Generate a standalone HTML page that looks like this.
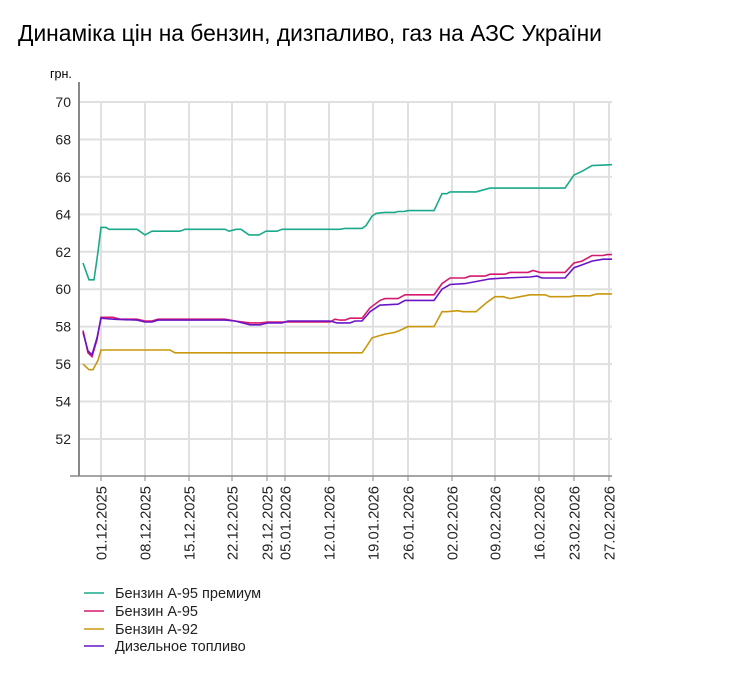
<!DOCTYPE html>
<html><head><meta charset="utf-8"><style>
body{margin:0;background:#fff;width:748px;height:673px;overflow:hidden;font-family:"Liberation Sans",sans-serif}
</style></head><body>
<svg id="s" width="748" height="673" xmlns="http://www.w3.org/2000/svg" font-family="Liberation Sans, sans-serif">
<text x="18" y="41" font-size="22.8" fill="#000">Динаміка цін на бензин, дизпаливо, газ на АЗС України</text>
<text x="50" y="78" font-size="12.5" fill="#000">грн.</text>
<g id="grid" stroke="#e0e0e0" stroke-width="2"></g>
<line x1="79" y1="82" x2="79" y2="476" stroke="#888" stroke-width="2"/>
<line x1="70" y1="476" x2="612" y2="476" stroke="#888" stroke-width="1.5"/>
<g id="yl" font-size="14" fill="#222" text-anchor="end"></g>
<g id="xl" font-size="14.8" fill="#222"></g>
<g id="lines" fill="none" stroke-width="1.6"></g>
<g font-size="14.5" fill="#222">
<line x1="84" y1="593" x2="104" y2="593" stroke="#1aaa8a" stroke-width="1.5"/><text x="115" y="598">Бензин А-95 премиум</text>
<line x1="84" y1="611" x2="104" y2="611" stroke="#d6186f" stroke-width="1.5"/><text x="115" y="616">Бензин А-95</text>
<line x1="84" y1="629" x2="104" y2="629" stroke="#c9980e" stroke-width="1.5"/><text x="115" y="634">Бензин А-92</text>
<line x1="84" y1="646" x2="104" y2="646" stroke="#6a14c8" stroke-width="1.5"/><text x="115" y="651">Дизельное топливо</text>
</g>
</svg>
<script>
var NS="http://www.w3.org/2000/svg";
function Y(v){return 102+(70-v)*18.72;}
function el(p,t,a,txt){var e=document.createElementNS(NS,t);for(var k in a)e.setAttribute(k,a[k]);if(txt)e.textContent=txt;document.getElementById(p).appendChild(e);}
for(var v=52;v<=70;v+=2){el("grid","line",{x1:79,x2:612,y1:Y(v),y2:Y(v)});el("yl","text",{x:71,y:Y(v)+5},String(v));}
var xs=[[101,"01.12.2025"],[145,"08.12.2025"],[189,"15.12.2025"],[232,"22.12.2025"],[267,"29.12.2025"],[285,"05.01.2026"],[329,"12.01.2026"],[373,"19.01.2026"],[408,"26.01.2026"],[452,"02.02.2026"],[495,"09.02.2026"],[539,"16.02.2026"],[574,"23.02.2026"],[609,"27.02.2026"]];
xs.forEach(function(d){el("grid","line",{x1:d[0],x2:d[0],y1:102,y2:476});el("grid","line",{x1:d[0],x2:d[0],y1:476,y2:481,stroke:"#888","stroke-width":1});
el("xl","text",{x:0,y:0,"text-anchor":"end",transform:"translate("+(d[0]+5.5)+",486) rotate(-90)"},d[1]);});
var S={
"#1aaa8a":[[83,61.4],[89,60.5],[94,60.5],[98,62],[101,63.3],[106,63.3],[109,63.2],[137,63.2],[145,62.9],[152,63.1],[180,63.1],[185,63.2],[225,63.2],[229,63.1],[236,63.2],[241,63.2],[249,62.9],[259,62.9],[266,63.1],[277,63.1],[282,63.2],[340,63.2],[345,63.25],[362,63.25],[366,63.4],[372,63.9],[376,64.05],[385,64.1],[395,64.1],[398,64.15],[404,64.15],[408,64.2],[434,64.2],[442,65.1],[447,65.1],[450,65.2],[476,65.2],[490,65.4],[565,65.4],[574,66.1],[582,66.3],[592,66.6],[612,66.65]],
"#c9980e":[[83,56],[89,55.7],[93,55.7],[98,56.2],[101,56.75],[170,56.75],[175,56.6],[362,56.6],[366,56.9],[372,57.4],[385,57.6],[395,57.7],[400,57.8],[408,58],[434,58],[442,58.8],[447,58.8],[458,58.85],[463,58.8],[476,58.8],[487,59.3],[495,59.6],[503,59.6],[510,59.5],[520,59.6],[530,59.7],[545,59.7],[550,59.6],[570,59.6],[574,59.65],[590,59.65],[597,59.75],[612,59.75]],
"#d6186f":[[83,57.8],[88,56.6],[92,56.4],[97,57.3],[101,58.5],[113,58.5],[120,58.4],[137,58.4],[145,58.3],[152,58.3],[158,58.4],[225,58.4],[235,58.3],[250,58.2],[260,58.2],[268,58.25],[330,58.25],[335,58.4],[340,58.35],[345,58.35],[350,58.45],[362,58.45],[370,59],[380,59.4],[385,59.5],[398,59.5],[405,59.7],[434,59.7],[442,60.3],[450,60.6],[465,60.6],[470,60.7],[485,60.7],[490,60.8],[505,60.8],[510,60.9],[528,60.9],[533,61],[540,60.9],[565,60.9],[574,61.4],[582,61.5],[592,61.8],[603,61.8],[607,61.85],[612,61.85]],
"#6a14c8":[[83,57.7],[88,56.7],[92,56.5],[97,57.4],[101,58.45],[113,58.4],[137,58.35],[145,58.25],[152,58.25],[158,58.35],[225,58.35],[235,58.3],[250,58.1],[260,58.1],[268,58.2],[282,58.2],[288,58.3],[330,58.3],[337,58.2],[350,58.2],[355,58.3],[362,58.3],[370,58.8],[380,59.15],[398,59.2],[405,59.4],[434,59.4],[442,60],[450,60.25],[465,60.3],[490,60.55],[505,60.6],[530,60.65],[537,60.7],[542,60.6],[565,60.6],[574,61.15],[582,61.3],[592,61.5],[603,61.6],[612,61.6]]};
for(var c in S){el("lines","polyline",{stroke:c,points:S[c].map(function(p){return p[0]+","+Y(p[1]).toFixed(1)}).join(" ")});}
</script>
</body></html>
